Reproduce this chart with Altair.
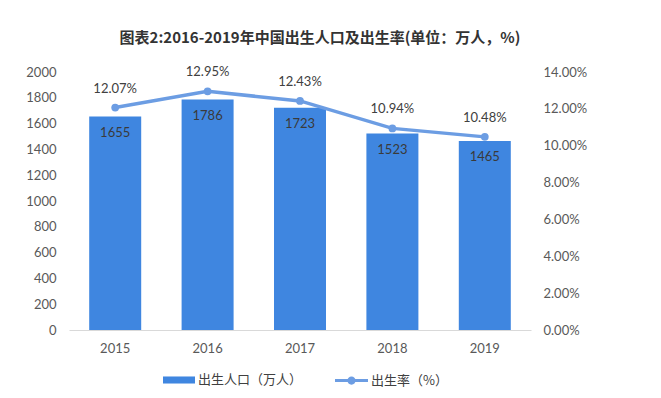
import altair as alt
import pandas as pd

years = ["2015", "2016", "2017", "2018", "2019"]
births = [1655, 1786, 1723, 1523, 1465]
rates = [12.07, 12.95, 12.43, 10.94, 10.48]
bar_name = "出生人口（万人）"
line_name = "出生率（%）"

df = pd.DataFrame({
    "year": years,
    "births": births,
    "rate": rates,
    "rate_label": [f"{r:.2f}%" for r in rates],
    "bar_series": [bar_name] * len(years),
    "line_series": [line_name] * len(years),
})

FONT = "Lato"
BAR_C = "#3f86e0"
LINE_C = "#6c9de3"

x = alt.X("year:N", title=None,
          scale=alt.Scale(paddingInner=0.44, paddingOuter=0.22),
          axis=alt.Axis(labelAngle=0, labelFont=FONT, labelFontSize=13, labelColor="#595959",
                        ticks=False, domain=True, domainColor="#d9d9d9", labelPadding=12))

left_axis = alt.Axis(values=list(range(0, 2001, 200)), format="d", grid=False, domain=False, ticks=False,
                     labelFont=FONT, labelFontSize=13, labelColor="#595959", labelPadding=13)
right_axis = alt.Axis(orient="right", values=list(range(0, 15, 2)), grid=False, domain=False,
                      ticks=False, labelExpr="format(datum.value, '.2f') + '%'",
                      labelFont=FONT, labelFontSize=13, labelColor="#595959", labelPadding=12)

yl = alt.Y("births:Q", title=None, scale=alt.Scale(domain=[0, 2000]), axis=left_axis)
yr = alt.Y("rate:Q", title=None, scale=alt.Scale(domain=[0, 14]), axis=right_axis)

base = alt.Chart(df)

bars = base.mark_bar(size=52).encode(
    x=x,
    y=yl,
    color=alt.Color("bar_series:N", title=None,
                    scale=alt.Scale(range=[BAR_C]),
                    legend=alt.Legend(orient="none", legendX=94, legendY=292, direction="horizontal",
                                      symbolType="M-1,-0.22L1,-0.22L1,0.22L-1,0.22Z", symbolSize=1024,
                                      symbolStrokeWidth=0, symbolFillColor=BAR_C,
                                      labelFont="Noto Sans CJK SC", labelFontSize=13, labelColor="#404040",
                                      labelOffset=3)),
)

bar_text = base.mark_text(baseline="middle", dy=16, font=FONT, fontSize=13, color="#3a3a3a").encode(
    x=x,
    y=yl,
    text="births:Q",
)

left = alt.layer(bars, bar_text)

line = base.mark_line(strokeWidth=3.5).encode(
    x=x,
    y=yr,
    color=alt.Color("line_series:N", title=None,
                    scale=alt.Scale(range=[LINE_C]),
                    legend=alt.Legend(orient="none", legendX=266, legendY=292, direction="horizontal",
                                      symbolType="M-1,-0.09L1,-0.09L1,0.09L-1,0.09Z M-0.25,0A0.25,0.25 0 1,1 0.25,0A0.25,0.25 0 1,1 -0.25,0Z",
                                      symbolSize=1089, symbolStrokeWidth=0,
                                      symbolFillColor=LINE_C, symbolStrokeColor=LINE_C,
                                      labelFont="Noto Sans CJK SC", labelFontSize=13, labelColor="#404040",
                                      labelOffset=3)),
)

points = base.mark_circle(size=60, opacity=1, color=LINE_C).encode(
    x=x,
    y=yr,
)

line_text = base.mark_text(baseline="middle", dy=-19, font=FONT, fontSize=13, color="#404040").encode(
    x=x,
    y=yr,
    text="rate_label:N",
)

right = alt.layer(line, points, line_text)

chart = alt.layer(left, right).resolve_scale(y="independent", color="independent").properties(
    width=462,
    height=258,
    background="white",
    autosize=alt.AutoSizeParams(type="none"),
    padding={"left": 61, "top": 64, "right": 114, "bottom": 60},
    title=alt.TitleParams(
        "图表2:2016-2019年中国出生人口及出生率(单位：万人，%)",
        font="Noto Sans CJK SC", fontSize=15, fontWeight="bold", color="#333333",
        anchor="middle", dx=20, offset=20,
    ),
).configure_view(strokeWidth=0, stroke="transparent").configure_axisY(domain=False)

chart.save("out.html", embed_options={"renderer": "svg", "actions": False})
